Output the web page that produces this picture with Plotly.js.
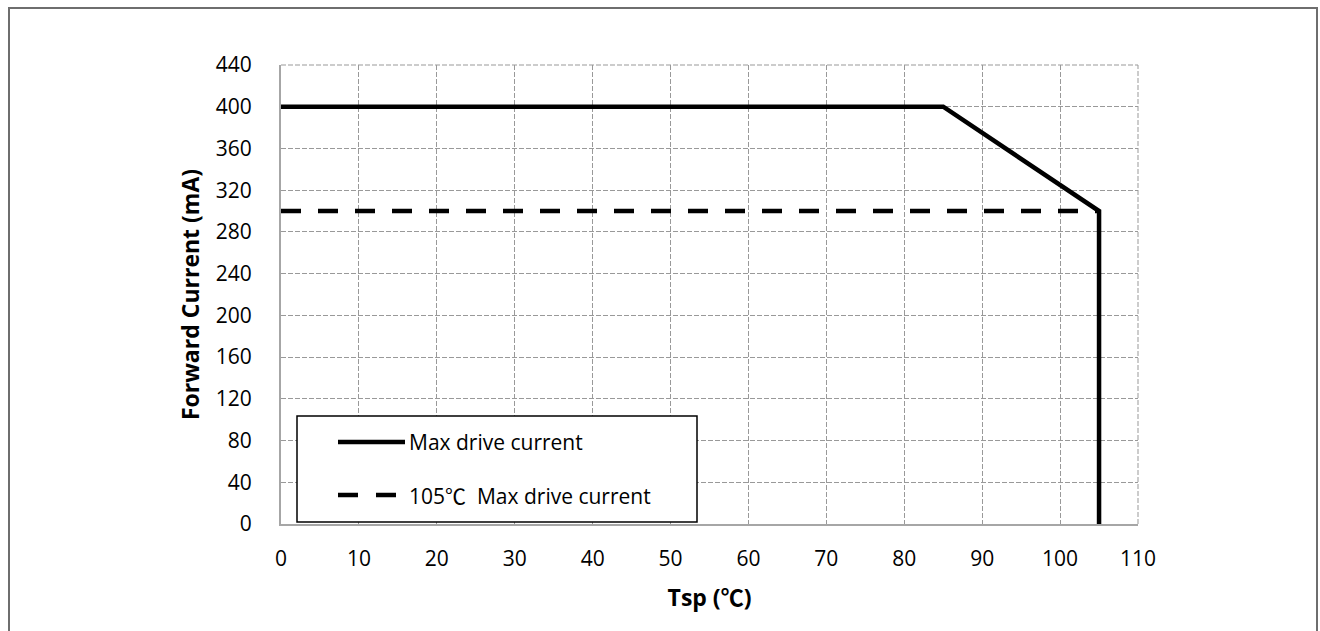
<!DOCTYPE html>
<html>
<head>
<meta charset="utf-8">
<script src="https://cdn.plot.ly/plotly-3.0.1.min.js"></script>
<style>
  html, body { margin: 0; padding: 0; background: #fff; }
  #wrap { position: relative; width: 1320px; height: 631px; }
  #chart { position: absolute; left: 0; top: 0; width: 1320px; height: 631px; }
  #frame { position: absolute; left: 8px; top: 7px; width: 1310px; height: 630px;
           border: 2px solid #6e6e6e; box-sizing: border-box; pointer-events: none; }
</style>
</head>
<body>
<div id="wrap">
  <div id="chart"></div>
  <div id="frame"></div>
</div>
<script>
// ---- data ----
const maxDriveT = [0, 85, 105, 105];
const maxDriveI = [400, 400, 300, 0];
const limit105T = [0, 105];
const limit105I = [300, 300];
const CEL = '<span style="font-family:Noto Sans CJK SC">\u2103</span>';
const seriesNames = ["Max drive current", "105" + CEL + "  Max drive current"];
const xTicks = [0, 10, 20, 30, 40, 50, 60, 70, 80, 90, 100, 110];
const yTicks = [0, 40, 80, 120, 160, 200, 240, 280, 320, 360, 400, 440];

const FONT = "Open Sans, Noto Sans, Noto Sans CJK SC, sans-serif";

const traces = [
  { x: maxDriveT, y: maxDriveI, name: "Max drive current", mode: "lines",
    line: { color: "#000", width: 4.5 }, cliponaxis: false, hoverinfo: "skip" },
  { x: limit105T, y: limit105I, name: "105\u2103 Max drive current", mode: "lines",
    line: { color: "#000", width: 4.5, dash: "20px,17px" }, hoverinfo: "skip" }
];

// custom legend (plot area pixels: x 281..1138, y 65..524)
const L = 281, R = 1138, T = 65, B = 524;
const px = v => (v - L) / (R - L);
const py = v => (B - v) / (B - T);

const shapes = [
  { type: "line", xref: "paper", yref: "paper", x0: 0, x1: 1, y0: 1, y1: 1,
    line: { color: "#999", width: 1, dash: "5px,2px" } },
  { type: "line", xref: "paper", yref: "paper", x0: 1, x1: 1, y0: 0, y1: 1,
    line: { color: "#999", width: 1, dash: "5px,2px" } },
  { type: "rect", xref: "paper", yref: "paper", x0: px(297), x1: px(697), y0: py(522), y1: py(416),
    fillcolor: "#fff", line: { color: "#000", width: 1.5 }, layer: "above" },
  { type: "line", xref: "paper", yref: "paper", x0: px(338), x1: px(405), y0: py(442), y1: py(442),
    line: { color: "#000", width: 4.5 }, layer: "above" },
  { type: "line", xref: "paper", yref: "paper", x0: px(338), x1: px(396), y0: py(495), y1: py(495),
    line: { color: "#000", width: 4.5, dash: "20px,18px" }, layer: "above" }
];

const annotations = [
  { xref: "paper", yref: "paper", x: px(407), y: py(442), xanchor: "left", yanchor: "middle",
    text: seriesNames[0], showarrow: false, font: { family: FONT, size: 21, color: "#000" } },
  { xref: "paper", yref: "paper", x: px(407), y: py(495), xanchor: "left", yanchor: "middle",
    text: seriesNames[1], showarrow: false, font: { family: FONT, size: 21, color: "#000" } }
];

const layout = {
  width: 1320, height: 631,
  margin: { l: L, r: 1320 - R, t: T, b: 631 - B, pad: 0 },
  paper_bgcolor: "#fff", plot_bgcolor: "#fff",
  showlegend: false,
  font: { family: FONT, color: "#000" },
  xaxis: {
    range: [0, 110], tickvals: xTicks, ticktext: xTicks.map(String),
    showline: true, linecolor: "#a6a6a6", linewidth: 2,
    showgrid: true, gridcolor: "#999", gridwidth: 1, griddash: "5px,2px",
    zeroline: false, ticks: "", ticklabelstandoff: 15,
    tickfont: { family: FONT, size: 21, color: "#000" },
    title: { text: "<b>Tsp (" + CEL + ")</b>", font: { family: FONT, size: 23, color: "#000" }, standoff: 19 },
    fixedrange: true
  },
  yaxis: {
    range: [0, 440], tickvals: yTicks, ticktext: yTicks.map(String),
    showline: true, linecolor: "#a6a6a6", linewidth: 2,
    showgrid: true, gridcolor: "#999", gridwidth: 1, griddash: "5px,2px",
    zeroline: false, ticks: "", ticklabelstandoff: 23,
    tickfont: { family: FONT, size: 21, color: "#000" },
    title: { text: "<b>Forward Current (mA)</b>", font: { family: FONT, size: 23, color: "#000" }, standoff: 10 },
    fixedrange: true
  },
  shapes: shapes,
  annotations: annotations
};

Plotly.newPlot("chart", traces, layout, { staticPlot: true, displayModeBar: false });
</script>
</body>
</html>
